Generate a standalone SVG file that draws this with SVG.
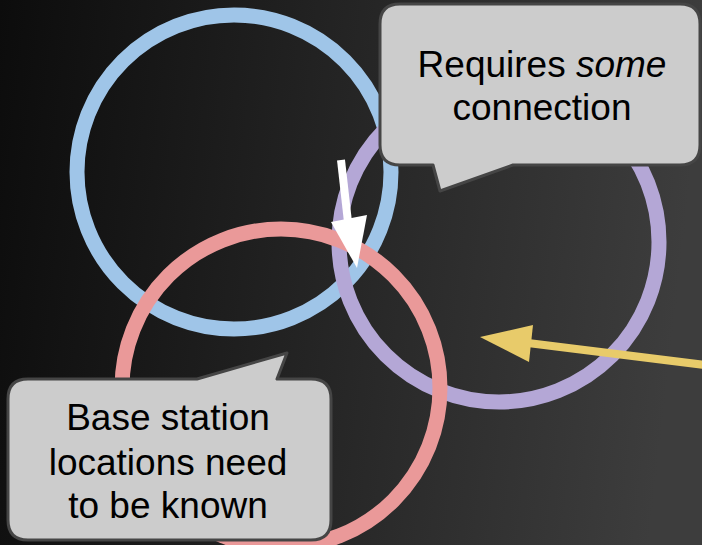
<svg xmlns="http://www.w3.org/2000/svg" width="702" height="545" viewBox="0 0 702 545">
  <defs>
    <linearGradient id="bg" x1="0" y1="0" x2="702" y2="80" gradientUnits="userSpaceOnUse">
      <stop offset="0" stop-color="#0c0c0c"/>
      <stop offset="1" stop-color="#3d3d3d"/>
    </linearGradient>
    <style>
      .ring { fill: none; stroke-width: 15; }
      .bubble { fill: #cccccc; stroke: #454545; stroke-width: 3; stroke-linejoin: round; }
      .label { font-family: "Liberation Sans", Arial, sans-serif; font-size: 37px; fill: #000000; text-anchor: middle; }
    </style>
  </defs>

  <rect width="702" height="545" fill="url(#bg)"/>

  <!-- coverage rings -->
  <g id="ring-blue"><circle class="ring" cx="234" cy="172" r="157" stroke="#9fc5e8"/></g>
  <g id="ring-purple"><circle class="ring" cx="499" cy="242" r="160" stroke="#b4a7d6"/></g>
  <g id="ring-red"><circle class="ring" cx="281" cy="388" r="159" stroke="#ea9999"/></g>

  <!-- pointers -->
  <g id="connectors">
    <line x1="341" y1="160" x2="348" y2="222" stroke="#ffffff" stroke-width="8"/>
    <polygon points="331,222 367,215 357,268" fill="#ffffff"/>
    <line x1="705" y1="365" x2="528" y2="343" stroke="#e8cb6a" stroke-width="8"/>
    <polygon points="480,337 533,325 529,362" fill="#e8cb6a"/>
  </g>

  <!-- callout: connection -->
  <g id="callout-connection">
    <path class="bubble" d="M400,4 H680 Q700,4 700,24 V145 Q700,165 680,165 H513 L440,191 L433,165 H400 Q380,165 380,145 V24 Q380,4 400,4 Z"/>
    <text class="label" x="542" y="77">Requires <tspan font-style="italic">some</tspan></text>
    <text class="label" x="542" y="120">connection</text>
  </g>

  <!-- callout: base stations -->
  <g id="callout-base-stations">
    <path class="bubble" d="M28,379 H197 L287,353 L277,379 H311 Q331,379 331,399 V520 Q331,540 311,540 H28 Q8,540 8,520 V399 Q8,379 28,379 Z"/>
    <text class="label" x="168" y="430">Base station</text>
    <text class="label" x="168" y="475">locations need</text>
    <text class="label" x="168" y="518">to be known</text>
  </g>
</svg>
